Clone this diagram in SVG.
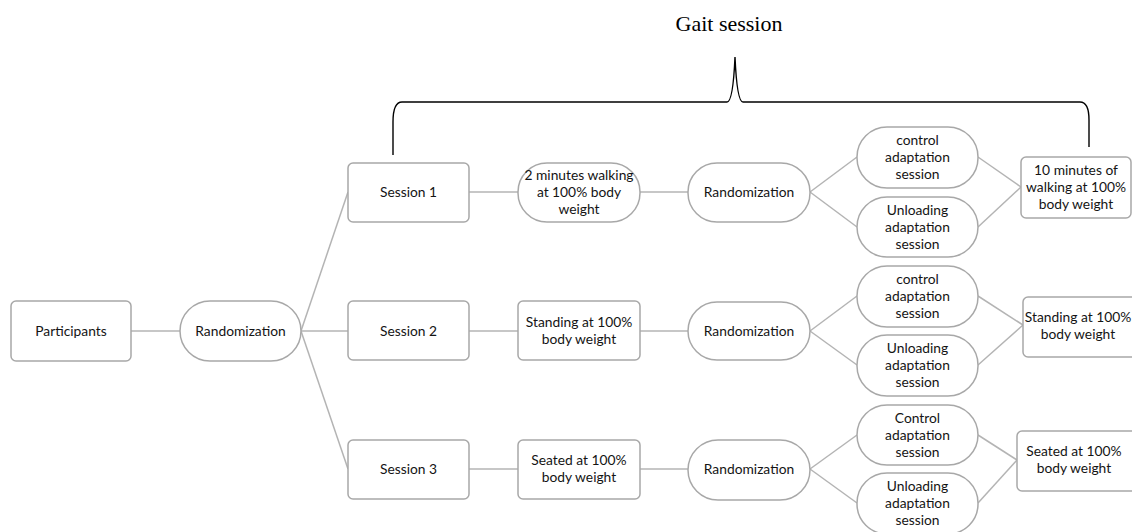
<svg xmlns="http://www.w3.org/2000/svg" width="1132" height="532" viewBox="0 0 1132 532">
<style>
.box{fill:#fff;stroke:#a8a8a8;stroke-width:1.5}
.c line{stroke:#b4b4b4;stroke-width:1.5}
.t{font-family:Lato,"Liberation Sans",sans-serif;font-size:13.8px;fill:#141414;text-anchor:middle}
.brace{fill:none;stroke:#000;stroke-width:1.4}
.title{font-family:"Liberation Serif",serif;font-size:22px;fill:#000;text-anchor:middle}
</style>
<rect width="1132" height="532" fill="#fff"/>
<text class="title" x="729" y="31">Gait session</text>
<path class="brace" d="M393 155 L393 122 Q393 102 402 102 L727 102 Q733 102 735 57 Q737 102 743 102 L1080 102 Q1089 102 1089 120 L1089 147"/>
<g class="c">
<line x1="131" y1="331" x2="180" y2="331"/>
<line x1="301" y1="331" x2="348" y2="192"/>
<line x1="301" y1="331" x2="348" y2="331"/>
<line x1="301" y1="331" x2="348" y2="469"/>
<line x1="469" y1="192" x2="518" y2="192"/>
<line x1="640" y1="192" x2="688" y2="192"/>
<line x1="810" y1="192" x2="857" y2="157"/>
<line x1="810" y1="192" x2="857" y2="227"/>
<line x1="978" y1="157" x2="1021" y2="187"/>
<line x1="978" y1="227" x2="1021" y2="187"/>
<line x1="469" y1="331" x2="518" y2="331"/>
<line x1="640" y1="331" x2="688" y2="331"/>
<line x1="810" y1="331" x2="857" y2="296"/>
<line x1="810" y1="331" x2="857" y2="365"/>
<line x1="978" y1="296" x2="1023" y2="325"/>
<line x1="978" y1="365" x2="1023" y2="325"/>
<line x1="469" y1="469" x2="518" y2="469"/>
<line x1="640" y1="469" x2="688" y2="469"/>
<line x1="810" y1="469" x2="857" y2="435"/>
<line x1="810" y1="469" x2="857" y2="503"/>
<line x1="978" y1="435" x2="1017" y2="460"/>
<line x1="978" y1="503" x2="1017" y2="460"/>
</g>
<g id="participants"><rect class="box" x="11" y="301" width="120" height="60" rx="5"/><text class="t" x="71" y="336">Participants</text></g>
<g id="rand0"><rect class="box" x="180" y="301" width="121" height="60" rx="30"/><text class="t" x="240.5" y="336">Randomization</text></g>
<g id="session1"><rect class="box" x="348" y="163" width="121" height="59" rx="5"/><text class="t" x="408.5" y="197">Session 1</text></g>
<g id="walk2"><rect class="box" x="518" y="163" width="122" height="59" rx="29"/><text class="t" x="579" y="180">2 minutes walking</text><text class="t" x="579" y="197">at 100% body</text><text class="t" x="579" y="214">weight</text></g>
<g id="rand1"><rect class="box" x="688" y="163" width="122" height="59" rx="29"/><text class="t" x="749" y="197">Randomization</text></g>
<g id="ctrl1"><rect class="box" x="857" y="127" width="121" height="61" rx="30"/><text class="t" x="917.5" y="145">control</text><text class="t" x="917.5" y="162">adaptation</text><text class="t" x="917.5" y="179">session</text></g>
<g id="unl1"><rect class="box" x="857" y="197" width="121" height="60" rx="30"/><text class="t" x="917.5" y="215">Unloading</text><text class="t" x="917.5" y="232">adaptation</text><text class="t" x="917.5" y="249">session</text></g>
<g id="walk10"><rect class="box" x="1021" y="157" width="110" height="61" rx="5"/><text class="t" x="1076" y="175">10 minutes of</text><text class="t" x="1076" y="192">walking at 100%</text><text class="t" x="1076" y="209">body weight</text></g>
<g id="session2"><rect class="box" x="348" y="301" width="121" height="59" rx="5"/><text class="t" x="408.5" y="336">Session 2</text></g>
<g id="stand2"><rect class="box" x="518" y="301" width="122" height="59" rx="5"/><text class="t" x="579" y="327">Standing at 100%</text><text class="t" x="579" y="344">body weight</text></g>
<g id="rand2"><rect class="box" x="688" y="302" width="122" height="58" rx="29"/><text class="t" x="749" y="336">Randomization</text></g>
<g id="ctrl2"><rect class="box" x="857" y="266" width="121" height="61" rx="30"/><text class="t" x="917.5" y="284">control</text><text class="t" x="917.5" y="301">adaptation</text><text class="t" x="917.5" y="318">session</text></g>
<g id="unl2"><rect class="box" x="857" y="335" width="121" height="61" rx="30"/><text class="t" x="917.5" y="353">Unloading</text><text class="t" x="917.5" y="370">adaptation</text><text class="t" x="917.5" y="387">session</text></g>
<g id="standfinal"><rect class="box" x="1023" y="297" width="125" height="60" rx="5"/><text class="t" x="1078" y="322">Standing at 100%</text><text class="t" x="1078" y="339">body weight</text></g>
<g id="session3"><rect class="box" x="348" y="440" width="121" height="59" rx="5"/><text class="t" x="408.5" y="474">Session 3</text></g>
<g id="seated2"><rect class="box" x="518" y="440" width="122" height="59" rx="5"/><text class="t" x="579" y="465">Seated at 100%</text><text class="t" x="579" y="482">body weight</text></g>
<g id="rand3"><rect class="box" x="688" y="440" width="122" height="60" rx="30"/><text class="t" x="749" y="474">Randomization</text></g>
<g id="ctrl3"><rect class="box" x="857" y="405" width="121" height="60" rx="30"/><text class="t" x="917.5" y="423">Control</text><text class="t" x="917.5" y="440">adaptation</text><text class="t" x="917.5" y="457">session</text></g>
<g id="unl3"><rect class="box" x="857" y="473" width="121" height="61" rx="30"/><text class="t" x="917.5" y="491">Unloading</text><text class="t" x="917.5" y="508">adaptation</text><text class="t" x="917.5" y="525">session</text></g>
<g id="seatedfinal"><rect class="box" x="1017" y="431" width="125" height="60" rx="5"/><text class="t" x="1074" y="456">Seated at 100%</text><text class="t" x="1074" y="473">body weight</text></g>
</svg>
